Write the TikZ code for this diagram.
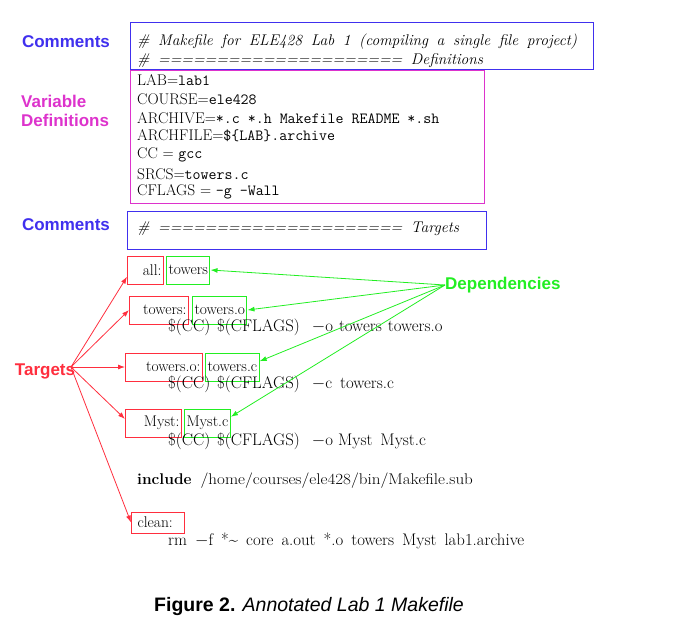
\documentclass[tikz,border=0pt]{standalone}
\usepackage{fontspec}
\newfontfamily\labelfont{Liberation Sans}
\usetikzlibrary{arrows,arrows.meta,positioning}

\definecolor{cmtblue}{HTML}{4030EE}
\definecolor{varmag}{HTML}{DD33CC}
\definecolor{tgtred}{HTML}{FF2E3E}
\definecolor{depgreen}{HTML}{22EE22}

\newcommand{\widesp}[1]{\spaceskip=#1\relax}

\tikzset{
  lbl/.style={font=\labelfont\bfseries\fontsize{17}{20}\selectfont, inner sep=0pt},
  code/.style={anchor=west, inner sep=0pt, font=\fontsize{15.5}{18.6}\selectfont},
  rule/.style={code, font=\fontsize{16.8}{19}\selectfont},
  cmt/.style={code, font=\fontsize{15.5}{18.6}\selectfont\itshape},
  cmtbox/.style={draw=cmtblue, line width=1.2pt, inner sep=0pt, anchor=north west},
  tgt/.style={draw=tgtred, line width=1pt, minimum height=28pt, inner xsep=2pt, inner ysep=0pt,
    align=right, anchor=west, font=\fontsize{15.5}{18.6}\selectfont},
  dep/.style={draw=depgreen, line width=1pt, minimum height=28pt, inner xsep=2pt, inner ysep=0pt,
    font=\fontsize{15.5}{18.6}\selectfont},
  tgtarr/.style={draw=tgtred, line width=0.8pt, -{Latex[length=7pt,width=5pt]}},
  deparr/.style={draw=depgreen, line width=0.8pt, -{Latex[length=7pt,width=5pt]}}
}

\begin{document}
\begin{tikzpicture}[x=1pt,y=-1pt]
\useasboundingbox (0,0) rectangle (677,630);

% comment block at the top
\node[lbl, text=cmtblue] (cmtlblA) at (66,42) {Comments};
\node[cmtbox, minimum width=463pt, minimum height=47pt] (cmtA) at (130,22) {};
\node[cmt] (cmtA1) at (137,42) {\widesp{8.6pt}\# Makefile for ELE428 Lab 1 (compiling a single file project)};
\node[cmt] (cmtA2) at (137,61) {\widesp{8.6pt}\# ===================== Definitions};

% variable definitions
\node[lbl, text=varmag, align=left, anchor=west] (varlbl) at (21,111) {Variable\\[-1pt]Definitions};
\node[draw=varmag, line width=1.2pt, inner sep=0pt, anchor=north west,
  minimum width=354pt, minimum height=133pt] (vars) at (130,70) {};
\node[code] (vLab) at (137,80) {LAB=\texttt{lab1}};
\node[code] (vCourse) at (137,99) {COURSE=\texttt{ele428}};
\node[code] (vArch) at (137,118) {ARCHIVE=\texttt{*.c *.h Makefile README *.sh}};
\node[code] (vArchf) at (137,136) {ARCHFILE=\texttt{\$\{LAB\}.archive}};
\node[code] (vCC) at (137,155) {CC = \texttt{gcc}};
\node[code] (vSrcs) at (137,174) {SRCS=\texttt{towers.c}};
\node[code] (vFlags) at (137,192) {CFLAGS = \texttt{-g -Wall}};

% second comment block
\node[lbl, text=cmtblue] (cmtlblB) at (66,225) {Comments};
\node[cmtbox, minimum width=359pt, minimum height=38pt] (cmtB) at (127,211) {};
\node[cmt] (cmtB1) at (137,229) {\widesp{8.6pt}\# ===================== Targets};

% targets and dependencies
\node[tgt, text width=32pt] (tAll) at (127,270) {all:};
\node[dep, right=2pt of tAll] (dAll) {towers};
\node[tgt, text width=55pt] (tTowers) at (129,310) {towers:};
\node[dep, right=3pt of tTowers] (dTowers) {towers.o};
\node[rule] (rTowers) at (168,327) {\$(CC)\hspace{7pt}\$(CFLAGS)\hspace{12pt}$-$o\hspace{6pt}towers\hspace{6pt}towers.o};
\node[tgt, text width=73pt] (tTowerso) at (125,367) {towers.o:};
\node[dep, right=2pt of tTowerso] (dTowerso) {towers.c};
\node[rule] (rTowerso) at (168,384) {\$(CC)\hspace{7pt}\$(CFLAGS)\hspace{12pt}$-$c\hspace{8pt}towers.c};
\node[tgt, text width=52pt] (tMyst) at (125,423) {Myst:};
\node[dep, right=2pt of tMyst] (dMyst) {Myst.c};
\node[rule] (rMyst) at (168,441) {\$(CC)\hspace{7pt}\$(CFLAGS)\hspace{12pt}$-$o Myst\hspace{8pt}Myst.c};
\node[code] (incl) at (137,481) {\textbf{include}\hspace{9pt}\scalebox{1.1}[1]{/home/courses/ele428/bin/Makefile.sub}};
\node[tgt, minimum height=21pt, text width=49pt, align=left] (tClean) at (131,522.5) {\hspace{4pt}clean:};
\node[rule] (rClean) at (168,541) {\widesp{8pt}rm $-$f *\~{} core a.out *.o towers Myst lab1.archive};

% annotations
\node[lbl, text=depgreen, anchor=west] (deps) at (445,285) {Dependencies};
\node[lbl, text=tgtred] (tgts) at (45,371) {Targets};
\coordinate (tgtsrc) at (71,367);

\draw[deparr] (deps.west) -- (dAll.east);
\draw[deparr] (deps.west) -- (dTowers.east);
\draw[deparr] (deps.west) -- (dTowerso.12);
\draw[deparr] (deps.west) -- (dMyst.15);

\draw[tgtarr] (tgtsrc) -- (tAll.200);
\draw[tgtarr] (tgtsrc) -- (tTowers.west);
\draw[tgtarr] (tgtsrc) -- (tTowerso.west);
\draw[tgtarr] (tgtsrc) -- (tMyst.172);
\draw[tgtarr] (tgtsrc) -- (tClean.west);

% caption
\node[font=\labelfont\fontsize{19.5}{22}\selectfont, inner sep=0pt] (caption) at (309,606)
  {\textbf{Figure 2.} \textit{Annotated Lab 1 Makefile}};

\end{tikzpicture}
\end{document}
